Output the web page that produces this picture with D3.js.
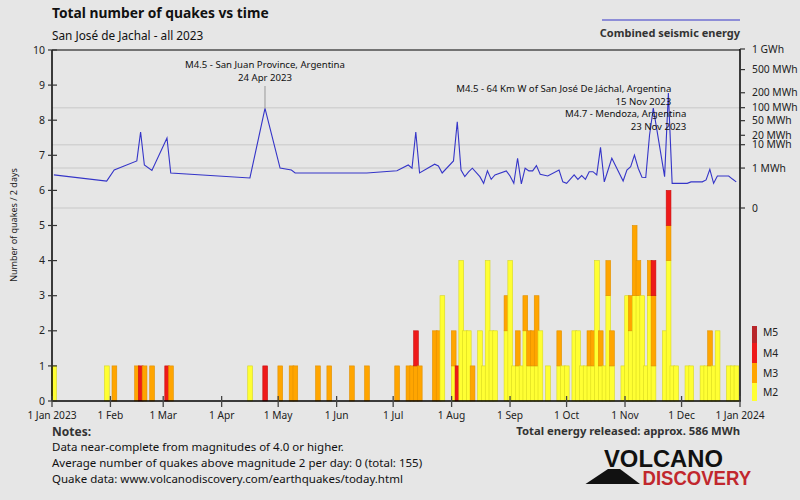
<!DOCTYPE html>
<html>
<head>
<meta charset="utf-8">
<script src="https://cdn.jsdelivr.net/npm/d3@7"></script>
<style>
  html, body { margin: 0; padding: 0; background: #e6e6e6; }
  svg { display: block; font-family: "Noto Sans", "Open Sans", sans-serif; }
</style>
</head>
<body>
<svg id="chart" width="800" height="500"></svg>
<script>
// ---------- DATA ----------
// 2-day bins (start date of each bin that contains quakes)
const binDates = [
  "2023-01-01","2023-01-29","2023-02-02","2023-02-14","2023-02-16","2023-02-18","2023-02-22","2023-03-02","2023-03-04",
  "2023-04-15","2023-04-23","2023-05-01","2023-05-07","2023-05-09","2023-05-21","2023-05-27","2023-06-08","2023-06-16",
  "2023-07-02","2023-07-08","2023-07-10","2023-07-12","2023-07-14","2023-07-22","2023-07-24","2023-07-26",
  "2023-08-01","2023-08-03","2023-08-05","2023-08-07","2023-08-09","2023-08-11","2023-08-15","2023-08-17","2023-08-19",
  "2023-08-21","2023-08-23","2023-08-29","2023-08-31","2023-09-02","2023-09-04","2023-09-06","2023-09-08","2023-09-10",
  "2023-09-12","2023-09-14","2023-09-16","2023-09-20","2023-09-26","2023-09-28","2023-09-30","2023-10-04","2023-10-06",
  "2023-10-08","2023-10-10","2023-10-12","2023-10-14","2023-10-16","2023-10-18","2023-10-20","2023-10-22","2023-10-24",
  "2023-10-30","2023-11-01","2023-11-03","2023-11-05","2023-11-07","2023-11-09","2023-11-11","2023-11-13","2023-11-15",
  "2023-11-21","2023-11-23","2023-11-25","2023-11-27","2023-12-03","2023-12-05","2023-12-11","2023-12-13","2023-12-15",
  "2023-12-17","2023-12-19","2023-12-25","2023-12-27","2023-12-29"
];
// number of quakes per bin by magnitude class
const countM2 = [1,1,0,0,0,0,0,0,0, 1,0,0,0,0,0,0,0,0, 0,0,0,0,0,0,0,3, 1,0,4,2,2,0,2,1,4, 2,2,2,4,1,1,1,2,1, 1,1,2,1,1,1,1,2,2, 1,1,1,1,4,1,1,3,1, 1,3,2,3,3,3,1,3,1, 2,4,1,1,1,1,1,1,1, 1,2,1,1,1];
const countM3 = [0,0,1,1,0,1,1,0,1, 0,0,1,1,1,1,1,1,1, 1,1,1,1,1,2,2,0, 1,0,0,0,0,1,0,0,0, 0,0,1,0,0,1,0,1,1, 1,2,0,0,1,0,0,0,0, 0,0,1,1,0,1,0,1,1, 0,0,1,2,1,0,0,1,2, 0,1,0,0,0,0,0,0,1, 0,0,0,0,0];
const countM4 = [0,0,0,0,1,0,0,1,0, 0,1,0,0,0,0,0,0,0, 0,0,0,1,0,0,0,0, 0,1,0,0,0,0,0,0,0, 0,0,0,0,0,0,0,0,0, 0,0,0,0,0,0,0,0,0, 0,0,0,0,0,0,0,0,0, 0,0,0,0,0,0,0,0,1, 0,1,0,0,0,0,0,0,0, 0,0,0,0,0];
const countM5 = binDates.map(() => 0);
// combined seismic energy per bin (MWh)
const energyMWh = [0.39,0.14,0.78,2.27,25,1.45,0.73,16.6,0.52, 0.24,97,1.0,0.78,0.52,0.52,0.52,0.52,0.52,
  0.70,1.45,1.0,25,0.52,1.58,1.29,0.52, 2.27,47,0.78,0.30,0.60,0.98,0.30,0.09,0.70,
  0.19,0.39,0.69,0.33,0.09,3.0,0.08,0.98,0.69, 0.69,1.34,0.43,0.33,0.78,0.12,0.09,0.39,0.19,
  0.35,0.19,0.62,0.62,0.39,8.1,0.12,0.78,3.0, 0.14,0.78,1.19,4.1,0.98,0.27,0.26,20,98,
  0.30,197,0.09,0.09,0.09,0.12,0.12,0.17,0.86, 0.09,0.33,0.33,0.20,0.12];

const countTicks = [0,1,2,3,4,5,6,7,8,9,10];
const energyTicks = [0,1,10,20,50,100,200,500,1000];
const energyTickLabels = ["0","1 MWh","10 MWh","20 MWh","50 MWh","100 MWh","200 MWh","500 MWh","1 GWh"];
const energyGrid = [0,1,10,100];
const monthTicks = ["2023-01-01","2023-02-01","2023-03-01","2023-04-01","2023-05-01","2023-06-01","2023-07-01",
  "2023-08-01","2023-09-01","2023-10-01","2023-11-01","2023-12-01","2024-01-01"];
const monthLabels = ["1 Jan 2023","1 Feb","1 Mar","1 Apr","1 May","1 Jun","1 Jul","1 Aug","1 Sep","1 Oct","1 Nov","1 Dec","1 Jan 2024"];
const magClasses = ["M5","M4","M3","M2"];
const magColors = ["#b8262a","#ee1a1a","#ffa500","#ffff33"];
const annotations = [
  {date:"2023-04-23", lines:["M4.5 - San Juan Province, Argentina","24 Apr 2023"], anchor:"middle"},
  {date:"2023-11-15", lines:["M4.5 - 64 Km W of San José De Jáchal, Argentina","15 Nov 2023"], anchor:"end"},
  {date:"2023-11-23", lines:["M4.7 - Mendoza, Argentina","23 Nov 2023"], anchor:"end"}
];
const notes = [
  "Data near-complete from magnitudes of 4.0 or higher.",
  "Average number of quakes above magnitude 2 per day: 0 (total: 155)",
  "Quake data: www.volcanodiscovery.com/earthquakes/today.html"
];

// ---------- CHART ----------
const parse = d3.utcParse("%Y-%m-%d");
const svg = d3.select("#chart");
const L = 52, R = 740, T = 50, B = 401;

const x = d3.scaleUtc().domain([parse("2023-01-01"), parse("2024-01-01")]).range([L, R]);
const y = d3.scaleLinear().domain([0, 10]).range([B, T]);
const yE = d3.scalePow().exponent(0.2).domain([0, 1000]).range([208, 49]);

const DAY = 86400000;
const bins = binDates.map((d, i) => {
  const t = parse(d);
  return {t, c: [countM2[i], countM3[i], countM4[i], countM5[i]], e: energyMWh[i]};
});

svg.append("rect").attr("width", 800).attr("height", 500).attr("fill", "#e6e6e6");

// energy grid lines
svg.append("g").selectAll("line").data(energyGrid).join("line")
  .attr("x1", L).attr("x2", R)
  .attr("y1", d => yE(d)).attr("y2", d => yE(d))
  .attr("stroke", "#d2d2d2").attr("stroke-width", 1.5);

// bars
const stackColors = ["#ffff33","#ffa500","#ee1a1a","#b8262a"];
const stackEdge = ["#d8d820","#e09000","#c81010","#901818"];
const gBars = svg.append("g");
bins.forEach(b => {
  const x0 = x(b.t), x1 = x(new Date(+b.t + 2 * DAY));
  let acc = 0;
  b.c.forEach((n, k) => {
    if (!n) return;
    gBars.append("rect")
      .attr("x", x0 - 0.3).attr("width", (x1 - x0) + 1.0)
      .attr("y", y(acc + n)).attr("height", y(acc) - y(acc + n))
      .attr("fill", stackColors[k])
      .attr("stroke", stackEdge[k]).attr("stroke-width", 0.6);
    acc += n;
  });
});

// energy line
const line = d3.line().x(b => x(new Date(+b.t + DAY))).y(b => yE(b.e));
svg.append("path").datum(bins).attr("d", line)
  .attr("fill", "none").attr("stroke", "#3535c8").attr("stroke-width", 1.1);

// frame
svg.append("line").attr("x1", L).attr("x2", R).attr("y1", T).attr("y2", T).attr("stroke", "#000").attr("stroke-width", 1.2);
svg.append("line").attr("x1", L).attr("x2", L).attr("y1", T).attr("y2", B).attr("stroke", "#000").attr("stroke-width", 1.5);
svg.append("line").attr("x1", R).attr("x2", R).attr("y1", 49).attr("y2", B).attr("stroke", "#000").attr("stroke-width", 1.5);
svg.append("line").attr("x1", L).attr("x2", R + 1).attr("y1", B).attr("y2", B).attr("stroke", "#000").attr("stroke-width", 1.5);

// left axis
const gL = svg.append("g");
gL.selectAll("line").data(countTicks).join("line")
  .attr("x1", L - 4).attr("x2", L + 5).attr("y1", d => y(d)).attr("y2", d => y(d))
  .attr("stroke", "#333").attr("stroke-width", 1.2);
gL.selectAll("text").data(countTicks).join("text")
  .attr("x", L - 7).attr("y", d => y(d)).attr("dy", "0.35em")
  .attr("text-anchor", "end").attr("font-size", 10.5).attr("fill", "#222").text(d => d);
svg.append("text").attr("transform", "translate(17,225) rotate(-90)")
  .attr("text-anchor", "middle").attr("font-size", 9).attr("fill", "#222")
  .text("Number of quakes / 2 days");

// right axis
const gR = svg.append("g");
gR.selectAll("line").data(energyTicks).join("line")
  .attr("x1", R).attr("x2", R + 5).attr("y1", d => yE(d)).attr("y2", d => yE(d))
  .attr("stroke", "#333").attr("stroke-width", 1.2);
gR.selectAll("text").data(energyTicks).join("text")
  .attr("x", R + 12).attr("y", d => yE(d)).attr("dy", "0.35em")
  .attr("font-size", 10.3).attr("fill", "#222").text((d, i) => energyTickLabels[i]);

// bottom axis
const gB = svg.append("g");
gB.selectAll("line").data(monthTicks).join("line")
  .attr("x1", d => x(parse(d))).attr("x2", d => x(parse(d)))
  .attr("y1", B - 5).attr("y2", B + 6).attr("stroke", "#444").attr("stroke-width", 1.3);
gB.selectAll("text").data(monthTicks).join("text")
  .attr("x", d => x(parse(d))).attr("y", B + 14).attr("dy", "0.35em")
  .attr("text-anchor", "middle").attr("font-size", 10.2).attr("fill", "#222")
  .text((d, i) => monthLabels[i]);

// annotations
annotations.forEach((a, idx) => {
  const b = bins.find(bb => +bb.t === +parse(a.date));
  const px = x(new Date(+b.t + DAY)), py = yE(b.e);
  if (a.anchor === "middle") {
    svg.append("line").attr("x1", px).attr("x2", px).attr("y1", 86).attr("y2", py)
      .attr("stroke", "#999").attr("stroke-width", 1);
    a.lines.forEach((t, j) => svg.append("text").attr("x", px).attr("y", 68 + j * 12.5)
      .attr("text-anchor", "middle").attr("font-size", 9.6).attr("fill", "#111").text(t));
  } else {
    const base = idx === 1 ? 92 : 117;
    a.lines.forEach((t, j) => svg.append("text").attr("x", px + 18).attr("y", base + j * 13)
      .attr("text-anchor", "end").attr("font-size", 9.6).attr("fill", "#111").text(t));
  }
});

// magnitude legend
const legY = [326, 343, 363, 383, 401];
magClasses.forEach((m, i) => {
  svg.append("rect").attr("x", 752).attr("y", legY[i]).attr("width", 5).attr("height", legY[i + 1] - legY[i])
    .attr("fill", magColors[i]);
  svg.append("text").attr("x", 763).attr("y", (legY[i] + legY[i + 1]) / 2 + (i === 0 ? -2 : 0)).attr("dy", "0.35em")
    .attr("font-size", 10.3).attr("fill", "#222").text(m);
});

// title etc.
svg.append("text").attr("x", 52).attr("y", 18).attr("font-size", 13.8).attr("font-weight", "bold")
  .attr("fill", "#111").text("Total number of quakes vs time");
svg.append("text").attr("x", 52).attr("y", 40).attr("font-size", 11.8).attr("fill", "#111")
  .text("San José de Jachal - all 2023");
svg.append("line").attr("x1", 602).attr("x2", 740).attr("y1", 20).attr("y2", 20)
  .attr("stroke", "#3535c8").attr("stroke-width", 1.2);
svg.append("text").attr("x", 740).attr("y", 37).attr("text-anchor", "end").attr("font-size", 11)
  .attr("font-weight", "bold").attr("fill", "#333").text("Combined seismic energy");

svg.append("text").attr("x", 52).attr("y", 436).attr("font-size", 12).attr("font-weight", "bold")
  .attr("fill", "#333").text("Notes:");
notes.forEach((n, i) => svg.append("text").attr("x", 52).attr("y", 451 + i * 16)
  .attr("font-size", 11.5).attr("fill", "#111").text(n));
svg.append("text").attr("x", 740).attr("y", 435).attr("text-anchor", "end").attr("font-size", 11.3)
  .attr("font-weight", "bold").attr("fill", "#333").text("Total energy released: approx. 586 MWh");

// logo
svg.append("path").attr("d", "M585.5,484 L608,469 L620,469 L640,484 Z").attr("fill", "#111");
svg.append("text").attr("x", 604).attr("y", 467).attr("font-size", 23).attr("font-weight", "bold")
  .attr("font-family", "Liberation Sans, Arial, sans-serif")
  .attr("textLength", 119).attr("lengthAdjust", "spacingAndGlyphs").attr("fill", "#111").text("VOLCANO");
svg.append("text").attr("x", 642.5).attr("y", 484.5).attr("font-size", 21).attr("font-weight", "bold")
  .attr("font-family", "Liberation Sans, Arial, sans-serif")
  .attr("textLength", 108.5).attr("lengthAdjust", "spacingAndGlyphs").attr("fill", "#c1272d").text("DISCOVERY");
</script>
</body>
</html>
